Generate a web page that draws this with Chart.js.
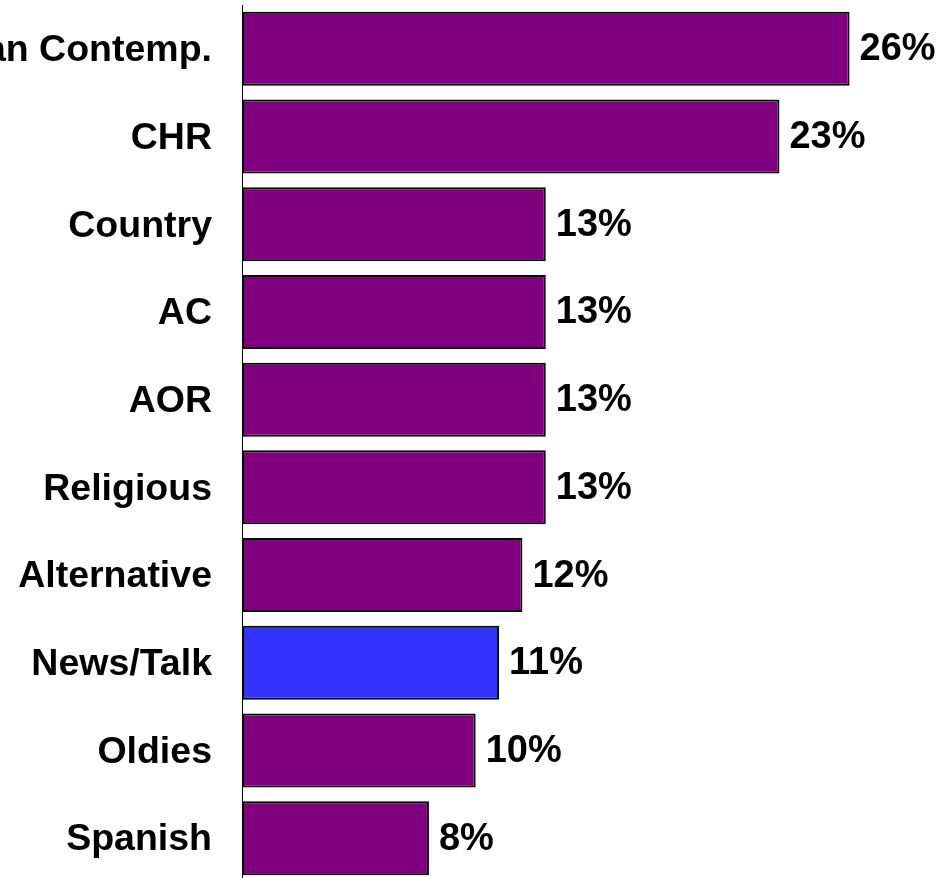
<!DOCTYPE html>
<html>
<head>
<meta charset="utf-8">
<title>Formatos de radio</title>
<script src="https://cdn.jsdelivr.net/npm/chart.js@4.4.1/dist/chart.umd.min.js"></script>
<style>
  html, body { margin: 0; padding: 0; background: #fff; overflow: hidden; }
  #grafica { display: block; }
</style>
</head>
<body>
<canvas id="grafica" width="940" height="882"></canvas>
<script>
const formatos = ["Urban Contemp.", "CHR", "Country", "AC", "AOR", "Religious",
    "Alternative", "News/Talk", "Oldies", "Spanish"];
const porcentajes = [26, 23, 13, 13, 13, 13, 12, 11, 10, 8];
const colores = ["#800080", "#800080", "#800080", "#800080", "#800080", "#800080",
    "#800080", "#3333FF", "#800080", "#800080"];

const fuente = "'Liberation Sans', Arial, sans-serif";

// etiqueta de valor a la derecha de cada barra
const etiquetas = {
    id: "etiquetas",
    afterDatasetsDraw(chart) {
        const ctx = chart.ctx;
        const meta = chart.getDatasetMeta(0);
        ctx.save();
        ctx.font = "bold 38px " + fuente;
        ctx.fillStyle = "#000";
        ctx.textAlign = "left";
        ctx.textBaseline = "middle";
        meta.data.forEach((barra, i) => {
            ctx.fillText(porcentajes[i] + "%", barra.x + 10, barra.y + 1);
        });
        ctx.restore();
    }
};

const ctx = document.getElementById("grafica").getContext("2d");
new Chart(ctx, {
    type: "bar",
    data: {
        labels: formatos,
        datasets: [{
            data: porcentajes,
            backgroundColor: colores,
            borderColor: "#000",
            borderWidth: 2,
            borderSkipped: false,
            barPercentage: 0.844,
            categoryPercentage: 1
        }]
    },
    options: {
        indexAxis: "y",
        responsive: false,
        animation: false,
        devicePixelRatio: 1,
        layout: { padding: { top: 5 } },
        plugins: {
            legend: { display: false },
            tooltip: { enabled: false }
        },
        scales: {
            x: {
                display: false,
                min: 0,
                max: 29.87
            },
            y: {
                afterFit(scale) {
                    scale.width = 242;
                    // sin margen extra arriba/abajo por las etiquetas
                    scale.paddingTop = 0;
                    scale.paddingBottom = 0;
                },
                grid: { display: false, drawTicks: false },
                border: { display: true, color: "#000", width: 1 },
                ticks: {
                    color: "#000",
                    padding: 30,
                    labelOffset: 2,
                    font: { family: fuente, size: 37.5, weight: "bold" }
                }
            }
        }
    },
    plugins: [etiquetas]
});
</script>
</body>
</html>
